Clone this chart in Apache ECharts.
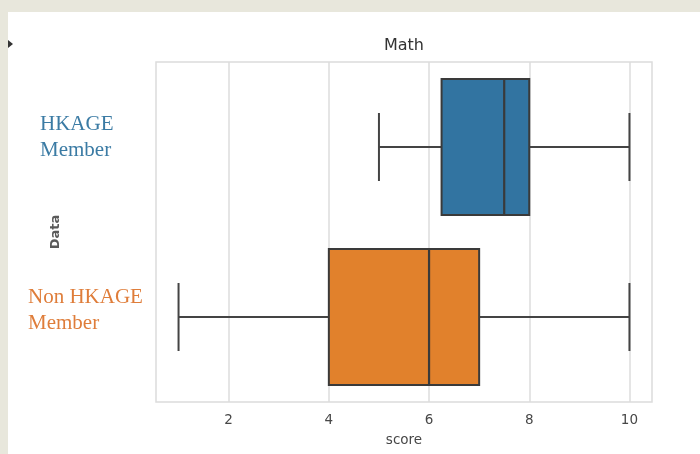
<!DOCTYPE html>
<html>
<head>
<meta charset="utf-8">
<script src="https://cdn.jsdelivr.net/npm/echarts@6/dist/echarts.min.js"></script>
<style>
  html, body { margin: 0; padding: 0; background: #e8e7dc; width: 700px; height: 454px; overflow: hidden; }
  #chart { position: absolute; left: 8px; top: 12px; width: 692px; height: 442px; background: #ffffff; }
</style>
</head>
<body>
<div id="chart"></div>
<script>
// ---- data ----
const chartTitle = 'Math';
const xAxisName = 'score';
const yAxisName = 'Data';
const categories = ['HKAGE\nMember', 'Non HKAGE\nMember'];
const whiskerLow = [5, 1];
const q1 = [6.25, 4];
const median = [7.5, 6];
const q3 = [8, 7];
const whiskerHigh = [10, 10];
const xTicks = [2, 4, 6, 8, 10];

// ---- styles ----
const boxFill = ['#3274a1', '#e1812c'];
const labelColors = ['#3b7ba4', '#df7d3a'];
const lineColor = '#444444';

const seriesData = categories.map((c, i) => [i, whiskerLow[i], q1[i], median[i], q3[i], whiskerHigh[i]]);

const chart = echarts.init(document.getElementById('chart'), null, { renderer: 'canvas' });

function renderBox(params, api) {
  const cat = api.value(0);
  const band = api.size([0, 1])[1];
  const cy = api.coord([0, cat])[1];
  const half = band * 0.4;
  const capHalf = band * 0.2;
  const xs = [1, 2, 3, 4, 5].map(d => api.coord([api.value(d), cat])[0]);
  const [xLo, xQ1, xMed, xQ3, xHi] = xs;
  const idx = params.dataIndex;
  const lineStyle = { stroke: lineColor, lineWidth: 2, fill: null };
  return {
    type: 'group',
    children: [
      { type: 'line', shape: { x1: xLo, y1: cy, x2: xQ1, y2: cy }, style: lineStyle },
      { type: 'line', shape: { x1: xQ3, y1: cy, x2: xHi, y2: cy }, style: lineStyle },
      { type: 'line', shape: { x1: xLo, y1: cy - capHalf, x2: xLo, y2: cy + capHalf }, style: lineStyle },
      { type: 'line', shape: { x1: xHi, y1: cy - capHalf, x2: xHi, y2: cy + capHalf }, style: lineStyle },
      { type: 'rect', shape: { x: xQ1, y: cy - half, width: xQ3 - xQ1, height: half * 2 },
        style: { fill: boxFill[idx], stroke: '#3a3a3a', lineWidth: 2 } },
      { type: 'line', shape: { x1: xMed, y1: cy - half, x2: xMed, y2: cy + half },
        style: { stroke: '#3a3a3a', lineWidth: 2.2 } }
    ]
  };
}

const spacer = [19, 14];
const padLeft = [12, 0];

const option = {
  animation: false,
  backgroundColor: '#ffffff',
  title: {
    text: chartTitle,
    left: 396,
    top: 26,
    padding: 0,
    textAlign: 'center',
    textStyle: { fontFamily: 'DejaVu Sans', fontSize: 16, fontWeight: 'normal', color: '#333333' }
  },
  graphic: [
    { type: 'polygon', shape: { points: [[0, 28], [5, 32], [0, 36]] }, style: { fill: '#333333' } }
  ],
  grid: {
    left: 148, right: 48, top: 50, bottom: 52,
    outerBoundsMode: 'none',
    containLabel: false,
    show: true, borderColor: '#dcdcdc', borderWidth: 1.5, backgroundColor: '#ffffff'
  },
  xAxis: {
    type: 'value',
    min: 0.55, max: 10.45,
    name: xAxisName,
    nameLocation: 'middle',
    nameGap: 31,
    nameMoveOverlap: false,
    nameTextStyle: { fontFamily: 'DejaVu Sans', fontSize: 13.5, color: '#474747' },
    axisLine: { show: false },
    axisTick: { show: false, customValues: xTicks },
    axisLabel: { customValues: xTicks, margin: 11, fontFamily: 'DejaVu Sans', fontSize: 13.5, color: '#474747' },
    splitLine: { show: true, lineStyle: { color: '#dcdcdc', width: 1.5 } }
  },
  yAxis: {
    type: 'category',
    data: categories,
    inverse: true,
    name: yAxisName,
    nameLocation: 'middle',
    nameGap: 94,
    nameRotate: 90,
    nameMoveOverlap: false,
    nameTextStyle: { fontFamily: 'DejaVu Sans', fontSize: 13, fontWeight: 'bold', color: '#5a5a5a' },
    axisLine: { show: false },
    axisTick: { show: false },
    splitLine: { show: false },
    axisLabel: {
      align: 'left',
      margin: 128,
      formatter: function (value, index) {
        const key = index === 0 ? 'a' : 'b';
        const sp = index === 0 ? 's0' : 's1';
        return value.split('\n').map(l => '{' + key + '|' + l + '}').join('\n') + '\n{' + sp + '| }';
      },
      rich: {
        a: { fontFamily: 'Liberation Serif', fontSize: 21, lineHeight: 26, color: labelColors[0], padding: [0, 0, 0, padLeft[0]] },
        b: { fontFamily: 'Liberation Serif', fontSize: 21, lineHeight: 26, color: labelColors[1], padding: [0, 0, 0, padLeft[1]] },
        s0: { fontSize: 10, lineHeight: spacer[0], height: spacer[0] },
        s1: { fontSize: 10, lineHeight: spacer[1], height: spacer[1] }
      }
    }
  },
  series: [{
    type: 'custom',
    renderItem: renderBox,
    encode: { x: [1, 2, 3, 4, 5], y: 0 },
    data: seriesData
  }]
};

chart.setOption(option);
</script>
</body>
</html>
